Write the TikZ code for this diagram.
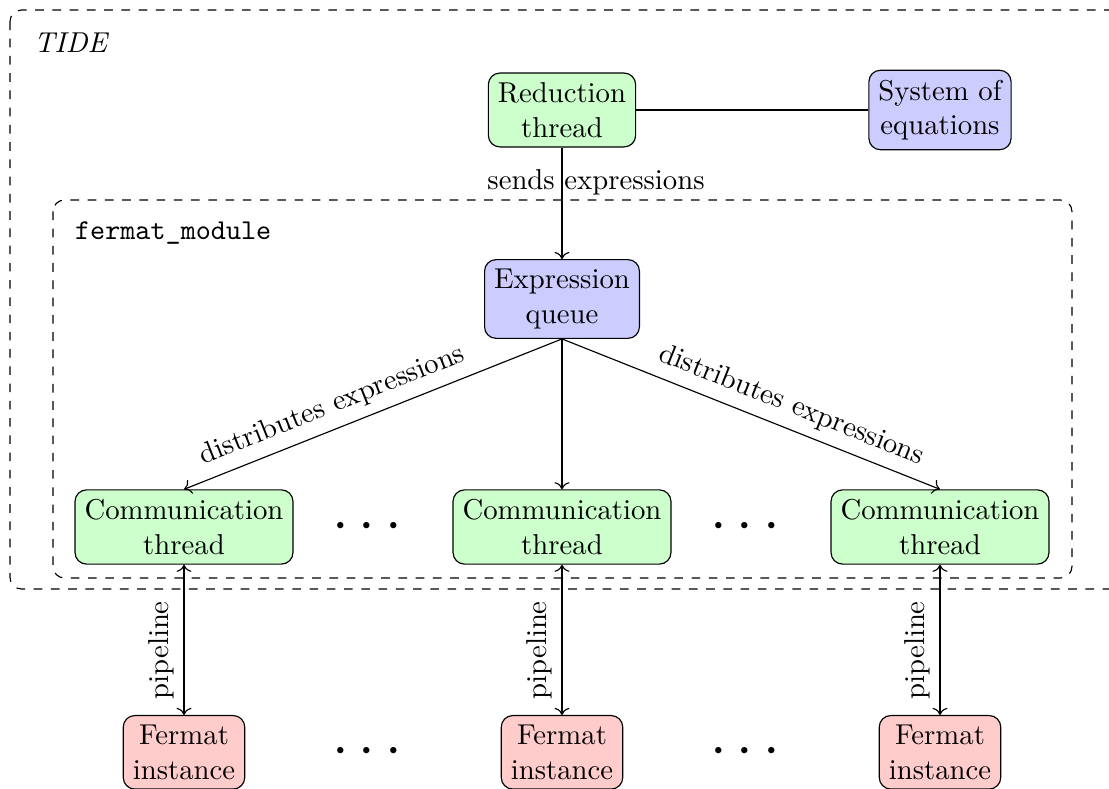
\documentclass[tikz,border=0pt]{standalone}
\usetikzlibrary{arrows.meta}
\begin{document}
\begin{tikzpicture}[x=0.348pt,y=-0.348pt,
  box/.style={draw,rounded corners=4pt,align=center,inner sep=3.33pt},
  greenbox/.style={box,fill=green!20},
  bluebox/.style={box,fill=blue!20},
  redbox/.style={box,fill=red!20},
  region/.style={draw,dashed,rounded corners=4pt},
  dotsnode/.style={font=\huge,inner sep=0pt}]
\clip (0,0) rectangle (1109,789);
% regions
\draw[region] (10,10) rectangle (1125,589);
\draw[region] (53,200) rectangle (1072,578);
\node[anchor=west,font=\itshape] (tide) at (24,43) {TIDE};
\node[anchor=west,font=\ttfamily] (fm) at (65,233) {fermat\_module};
% nodes
\node[greenbox] (red) at (562,110) {Reduction\\thread};
\node[bluebox] (sys) at (940,110) {System of\\equations};
\node[bluebox] (queue) at (562,299) {Expression\\queue};
\node[greenbox] (c1) at (184,527) {Communication\\thread};
\node[greenbox] (c2) at (562,527) {Communication\\thread};
\node[greenbox] (c3) at (940,527) {Communication\\thread};
\node[dotsnode] (d1) at (367,527) {$\cdots$};
\node[dotsnode] (d2) at (745,527) {$\cdots$};
\node[redbox,anchor=north] (f1) at (184,715) {Fermat\\instance};
\node[redbox,anchor=north] (f2) at (562,715) {Fermat\\instance};
\node[redbox,anchor=north] (f3) at (940,715) {Fermat\\instance};
\node[dotsnode] (d3) at (367,752) {$\cdots$};
\node[dotsnode] (d4) at (745,752) {$\cdots$};
% connectors
\draw (red) -- (sys);
\draw[->] (red) -- node[pos=0.31,xshift=34*0.348pt] {sends expressions} (queue);
\draw[->] (queue.south) -- node[pos=0.585,sloped,above] {distributes expressions} (c1.north);
\draw[->] (queue.south) -- (c2.north);
\draw[->] (queue.south) -- node[pos=0.585,sloped,above] {distributes expressions} (c3.north);
\draw[<->] (c1) -- node[pos=0.57,rotate=90,anchor=south] {pipeline} (f1);
\draw[<->] (c2) -- node[pos=0.57,rotate=90,anchor=south] {pipeline} (f2);
\draw[<->] (c3) -- node[pos=0.57,rotate=90,anchor=south] {pipeline} (f3);
\end{tikzpicture}
\end{document}
